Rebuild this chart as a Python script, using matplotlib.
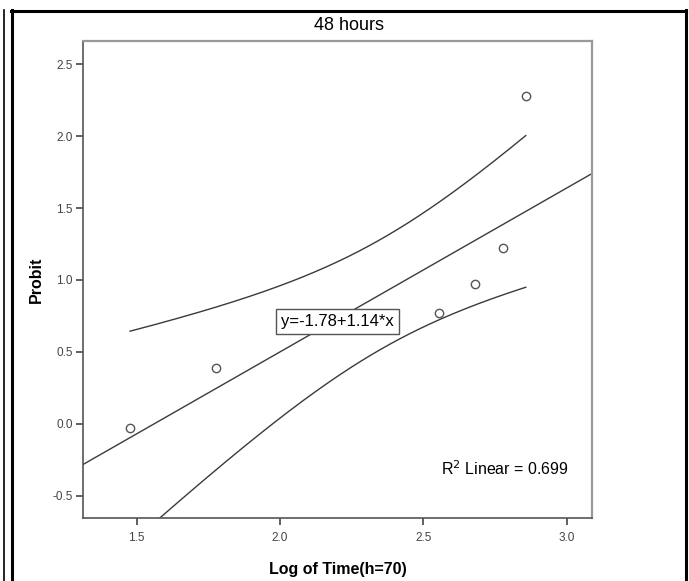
import numpy as np
import matplotlib
matplotlib.use("Agg")
import matplotlib.pyplot as plt
from matplotlib.lines import Line2D

plt.rcParams["font.family"] = ["Liberation Sans", "DejaVu Sans"]

# data
log_time = np.array([1.477, 1.777, 2.555, 2.681, 2.779, 2.857])
probit = np.array([-0.03, 0.39, 0.77, 0.97, 1.22, 2.28])
intercept, slope = -1.78, 1.14
r2_linear = 0.699
band_t = 1.95  # multiplier for the mean confidence band

x_ticks = [1.5, 2.0, 2.5, 3.0]
y_ticks = [-0.5, 0.0, 0.5, 1.0, 1.5, 2.0, 2.5]

W, H = 689, 581
fig = plt.figure(figsize=(W / 100, H / 100), dpi=100)
ax = fig.add_axes([82.7 / W, 1 - 517.7 / H, (592.3 - 82.7) / W, (517.7 - 41) / H])

line_col = "#3a3a3a"

# fit line over full axis range
xl = np.array([1.312, 3.089])
ax.plot(xl, intercept + slope * xl, color=line_col, lw=1.0)

# confidence band for the mean, over data range
n = len(log_time)
resid = probit - (intercept + slope * log_time)
s = np.sqrt(np.sum(resid ** 2) / (n - 2))
xbar = log_time.mean()
sxx = np.sum((log_time - xbar) ** 2)
xb = np.linspace(log_time.min(), log_time.max(), 200)
hw = band_t * s * np.sqrt(1 / n + (xb - xbar) ** 2 / sxx)
yb = intercept + slope * xb
ax.plot(xb, yb + hw, color=line_col, lw=1.0)
ax.plot(xb, yb - hw, color=line_col, lw=1.0)

ax.plot(log_time, probit, "o", ms=6, mfc="white", mec="#555555", mew=1.0, zorder=5)

ax.set_xlim(1.312, 3.089)
ax.set_ylim(-0.653, 2.662)
ax.set_xticks(x_ticks)
ax.set_yticks(y_ticks)
ax.set_xticklabels([f"{v:.1f}" for v in x_ticks])
ax.set_yticklabels([f"{v:.1f}" for v in y_ticks])
ax.tick_params(direction="out", length=5, width=1.2, color="#444444",
               labelsize=8.5, labelcolor="#444444")
ax.tick_params(axis="x", pad=5)
ax.tick_params(axis="y", pad=2)

for side in ["left", "bottom"]:
    ax.spines[side].set_color("#555555")
    ax.spines[side].set_linewidth(1.2)
for side in ["top", "right"]:
    ax.spines[side].set_color("#999999")
    ax.spines[side].set_linewidth(1.6)

ax.set_xlabel("Log of Time(h=70)", fontsize=11.5, fontweight="bold", labelpad=13)
ax.set_ylabel("Probit", fontsize=11.5, fontweight="bold", labelpad=6)

ax.text(2.2, 0.713, "y=-1.78+1.14*x", fontsize=12, ha="center", va="center",
        bbox=dict(boxstyle="square,pad=0.3", fc="white", ec="#555555", lw=1.0),
        zorder=6)
ax.text(2.785, -0.31, f"R$^2$ Linear = {r2_linear}", fontsize=11.5,
        ha="center", va="center")

fig.text(348.5 / W, 1 - 25 / H, "48 hours", fontsize=13, ha="center", va="center")

# outer frame
def px_line(x0, y0, x1, y1, lw):
    fig.add_artist(Line2D([x0 / W, x1 / W], [1 - y0 / H, 1 - y1 / H],
                          color="black", lw=lw, transform=fig.transFigure))

px_line(3.5, 10, 3.5, H, 1.2)
px_line(12, 10, 12, H, 2.2)
px_line(11, 10.5, 686, 10.5, 2.2)
px_line(685.5, 10, 685.5, H, 2.2)

fig.savefig("out.png", dpi=100)
